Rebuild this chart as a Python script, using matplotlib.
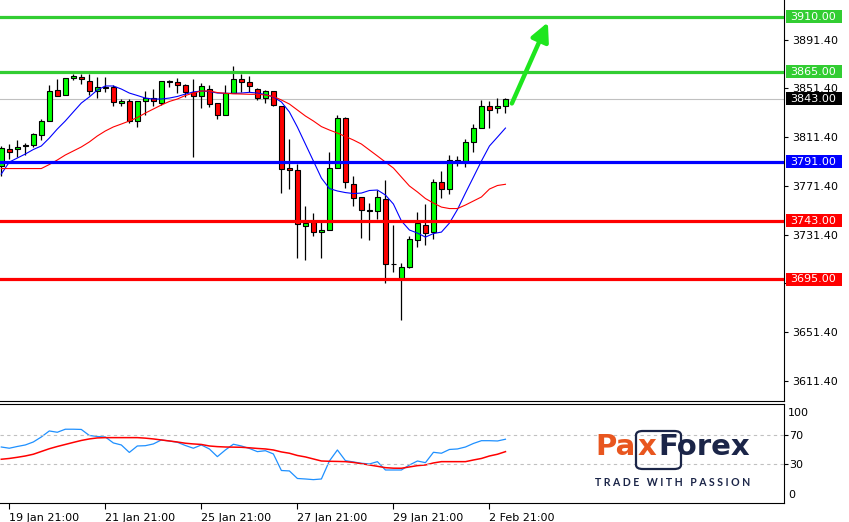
import matplotlib
matplotlib.use('Agg')

import matplotlib.pyplot as plt
import numpy as np
from matplotlib.patches import Rectangle, FancyBboxPatch

# H4 candles
opens = [3787.7, 3801.9, 3801.4, 3803.8, 3804.6, 3812.8, 3824.3, 3849.7, 3845.6, 3859.6,
         3860.4, 3857.6, 3848.9, 3852.2, 3852.2, 3839.1, 3840.7, 3824.8, 3840.7, 3843.4,
         3839.1, 3857.4, 3856.3, 3854.1, 3848.6, 3844.8, 3851.1, 3839.1, 3829.2, 3847.8,
         3858.8, 3856.3, 3850.6, 3843.4, 3848.9, 3836.6, 3785.8, 3784.4, 3738.2, 3742.0,
         3733.3, 3734.9, 3786.3, 3826.8, 3772.7, 3762.2, 3751.3, 3750.5, 3760.6, 3707.1,
         3695.3, 3705.1, 3727.2, 3739.5, 3733.3, 3774.3, 3769.1, 3792.3, 3791.2, 3807.4,
         3818.6, 3836.9, 3835.0, 3836.9]
highs = [3804.0, 3805.5, 3809.0, 3806.8, 3815.0, 3826.0, 3854.1, 3859.0, 3859.6, 3862.9,
         3862.9, 3862.9, 3860.4, 3860.4, 3854.1, 3842.6, 3842.6, 3841.0, 3849.2, 3850.8,
         3857.4, 3858.2, 3859.8, 3854.9, 3859.0, 3855.7, 3854.3, 3839.1, 3854.3, 3869.7,
         3862.9, 3861.5, 3851.6, 3850.0, 3848.9, 3836.6, 3809.8, 3789.3, 3754.9, 3748.9,
         3741.7, 3799.1, 3829.5, 3827.6, 3779.7, 3762.2, 3757.1, 3768.0, 3775.9, 3739.5,
         3708.4, 3730.3, 3749.7, 3756.5, 3777.0, 3783.6, 3796.4, 3796.1, 3809.8, 3822.1,
         3841.8, 3841.2, 3843.2, 3843.7]
lows = [3779.5, 3793.2, 3795.3, 3796.4, 3803.0, 3809.0, 3824.3, 3845.3, 3845.6, 3858.2,
        3854.9, 3845.9, 3843.7, 3848.6, 3836.9, 3837.1, 3822.7, 3819.9, 3829.5, 3837.1,
        3837.7, 3852.7, 3847.3, 3844.0, 3795.3, 3835.5, 3836.3, 3826.5, 3829.2, 3847.8,
        3848.1, 3848.1, 3841.8, 3839.1, 3836.9, 3765.8, 3769.1, 3712.5, 3710.6, 3730.3,
        3712.5, 3734.9, 3786.3, 3769.9, 3754.9, 3728.9, 3727.2, 3744.0, 3692.0, 3701.0,
        3661.4, 3704.3, 3721.0, 3722.9, 3727.6, 3761.2, 3765.0, 3787.7, 3786.6, 3799.1,
        3818.6, 3818.6, 3831.4, 3831.4]
closes = [3802.2, 3798.9, 3803.0, 3804.6, 3813.9, 3824.6, 3849.4, 3845.3, 3859.6, 3861.5,
          3858.8, 3848.9, 3852.2, 3852.0, 3839.9, 3840.7, 3824.8, 3841.0, 3843.4, 3840.7,
          3857.4, 3856.8, 3853.8, 3848.6, 3844.8, 3853.0, 3838.8, 3829.2, 3847.8, 3858.8,
          3856.3, 3853.0, 3843.2, 3848.9, 3837.4, 3785.5, 3784.1, 3739.9, 3741.2, 3733.3,
          3734.9, 3785.8, 3826.8, 3774.3, 3761.2, 3751.3, 3751.0, 3762.0, 3707.1, 3707.4,
          3705.1, 3727.6, 3740.7, 3733.0, 3774.3, 3769.1, 3792.3, 3792.0, 3807.4, 3818.6,
          3836.9, 3833.3, 3836.9, 3843.0]

# moving averages (blue fast, red slow)
ma_fast = [3781.1, 3790.9, 3794.2, 3797.5, 3801.2, 3804.1, 3810.6, 3818.0, 3824.6, 3832.0,
           3839.3, 3844.3, 3850.0, 3853.3, 3853.3, 3850.8, 3847.5, 3845.5, 3843.4, 3842.6,
           3842.6, 3843.4, 3844.7, 3846.7, 3848.4, 3849.2, 3848.8, 3847.5, 3847.3, 3847.3,
           3847.5, 3848.1, 3847.5, 3846.3, 3844.3, 3840.2, 3832.0, 3819.6, 3805.7, 3791.8,
           3777.8, 3769.2, 3767.2, 3765.9, 3765.1, 3765.5, 3767.6, 3768.0, 3763.9, 3756.5,
           3742.6, 3735.2, 3732.7, 3729.4, 3732.3, 3733.5, 3740.9, 3752.0, 3765.5, 3778.6,
           3791.8, 3804.1, 3811.4, 3818.8]
ma_slow = [3785.6, 3785.6, 3785.6, 3785.6, 3785.6, 3785.6, 3788.9, 3792.6, 3796.7, 3800.0,
           3803.3, 3807.4, 3812.3, 3816.4, 3819.7, 3822.1, 3824.6, 3827.4, 3831.1, 3834.4,
           3837.7, 3840.6, 3842.6, 3845.5, 3847.5, 3849.2, 3849.2, 3847.9, 3847.3, 3846.9,
           3846.7, 3846.5, 3846.5, 3845.9, 3844.7, 3841.8, 3838.5, 3833.6, 3828.7, 3824.6,
           3820.0, 3817.2, 3814.7, 3811.9, 3809.0, 3805.7, 3800.8, 3795.9, 3790.9, 3786.0,
           3778.6, 3771.3, 3766.4, 3761.0, 3757.3, 3754.0, 3752.8, 3752.8, 3755.7, 3759.0,
           3762.3, 3768.8, 3771.7, 3772.7]

# oscillator panel
osc_main = [53.4, 51.7, 54.1, 56.2, 60.3, 67.2, 75.5, 73.7, 77.9, 77.9,
            77.6, 69.3, 67.9, 67.2, 59.0, 56.2, 45.9, 54.8, 55.2, 57.6,
            63.1, 61.7, 59.9, 55.5, 51.7, 56.2, 50.7, 40.1, 49.3, 57.2,
            54.8, 51.4, 47.0, 48.3, 43.8, 21.0, 20.4, 10.0, 9.3, 8.4,
            9.3, 34.1, 49.3, 34.6, 32.8, 31.0, 30.0, 33.2, 21.7, 21.7,
            21.7, 28.6, 34.1, 31.8, 46.1, 44.8, 50.0, 50.7, 53.4, 58.3,
            62.1, 62.1, 61.7, 64.1]
osc_signal = [36.5, 37.6, 39.2, 41.0, 43.4, 47.2, 51.0, 54.1, 56.9, 59.7,
              62.4, 64.5, 65.9, 66.3, 66.3, 66.3, 66.3, 66.3, 65.6, 64.5,
              63.1, 61.7, 60.3, 58.6, 57.6, 56.9, 54.8, 53.9, 53.4, 53.2,
              53.0, 52.3, 51.4, 50.7, 49.3, 46.6, 44.8, 41.7, 39.7, 36.9,
              34.1, 33.7, 33.5, 33.2, 32.1, 30.4, 28.6, 26.8, 24.9, 24.2,
              24.1, 25.9, 27.7, 28.6, 31.4, 33.2, 33.2, 33.2, 33.2, 35.5,
              37.6, 41.0, 43.4, 47.0]

tick_idx = [1, 13, 25, 37, 49, 61]
tick_labels = ['19 Jan 21:00', '21 Jan 21:00', '25 Jan 21:00', '27 Jan 21:00',
               '29 Jan 21:00', '2 Feb 21:00']

levels = [3910.0, 3865.0, 3791.0, 3743.0, 3695.0]
level_colors = ['#32CD32', '#32CD32', '#0000FF', '#FF0000', '#FF0000']
last_price = 3843.0
price_ticks = [3611.4, 3651.4, 3691.4, 3731.4, 3771.4, 3811.4, 3851.4, 3891.4]

fig = plt.figure(figsize=(8.49, 5.22), dpi=100)
ax = fig.add_axes([0, 0.2318, 0.9234, 0.7682])
ax2 = fig.add_axes([0, 0.0364, 0.9234, 0.1897], sharex=ax)

x = np.arange(len(opens))
o = np.array(opens); c = np.array(closes)
doji = np.abs(c - o) < 0.8
colors = np.where(doji, 'black', np.where(c > o, '#00FF00', '#FF0000'))

# wicks + bodies
ax.vlines(x, lows, highs, color='black', lw=0.9, zorder=3)
ax.bar(x, np.maximum(np.abs(c - o), 0.05), bottom=np.minimum(o, c), width=0.62,
       color=colors, edgecolor='black', linewidth=0.8, zorder=4)

# MAs
ax.plot(x, ma_fast, color='#0000FF', lw=0.8, zorder=5)
ax.plot(x, ma_slow, color='#FF0000', lw=0.8, zorder=5)

# bid line + levels
ax.axhline(last_price, color='#C0C0C0', lw=0.8, zorder=1)
for lv, col in zip(levels, level_colors):
    ax.axhline(lv, color=col, lw=2.3, zorder=6)

# price tags on the right
tr = ax.get_yaxis_transform()
tags = levels + [last_price]
tag_cols = level_colors + ['black']
for lv, col in zip(tags, tag_cols):
    ax.add_patch(Rectangle((1.0026, lv - 5.3), 0.0714, 10.6, transform=tr,
                           facecolor=col, edgecolor='none', clip_on=False, zorder=10))
    ax.text(1.0085, lv, f'{lv:.2f}', transform=tr, color='white', fontsize=8,
            ha='left', va='center', clip_on=False, zorder=11)

# arrow toward the target
n = len(closes)
ax.annotate('', xy=(n + 4.3, levels[0] - 4.5), xytext=(n - 0.2, closes[-1] - 4),
            arrowprops=dict(arrowstyle='-|>,head_length=1.1,head_width=0.55',
                            color='#1EE61E', lw=3.2, shrinkA=0, shrinkB=0), zorder=7)

ax.set_xlim(-0.16, 97.8)
ax.set_ylim(3595.0, 3923.8)
ax.yaxis.tick_right()
ax.set_yticks(price_ticks)
# 3691.40 sits under the 3695.00 tag in the original, so its text is hidden
ax.set_yticklabels(['' if abs(p - levels[-1]) < 5 else f'{p:.2f}' for p in price_ticks])
ax.tick_params(axis='y', direction='out', length=3, pad=3, labelsize=8, width=0.8)
ax.tick_params(axis='x', bottom=False, labelbottom=False)
ax.spines['top'].set_visible(False)
ax.spines['left'].set_visible(False)

# oscillator
ax2.plot(x, osc_main, color='#1E90FF', lw=0.9)
ax2.plot(x, osc_signal, color='#FF0000', lw=1.1)
for lv in (70, 30):
    ax2.axhline(lv, color='#C0C0C0', lw=0.8, dashes=(3, 3))
ax2.set_ylim(-23.8, 112.7)
ax2.yaxis.tick_right()
ax2.set_yticks([70, 30])
ax2.set_yticklabels(['70', '30'])
ax2.tick_params(axis='y', direction='out', length=3, pad=1, labelsize=8, width=0.8)
ax2.text(1.005, 100, '100', transform=ax2.get_yaxis_transform(), fontsize=8,
         ha='left', va='center')
ax2.text(1.005, -12.7, '0', transform=ax2.get_yaxis_transform(), fontsize=8,
         ha='left', va='center')
ax2.set_xticks(tick_idx)
ax2.set_xticklabels(tick_labels, ha='left')
ax2.tick_params(axis='x', direction='out', length=4, pad=3, labelsize=8, width=0.8)
ax2.spines['left'].set_visible(False)

# PaxForex logo
navy = '#1B2548'
orange = '#E8561F'
fig.add_artist(FancyBboxPatch((636 / 849, 1 - 469 / 522), 45 / 849, 38 / 522,
                              boxstyle='round,pad=0,rounding_size=0.008',
                              transform=fig.transFigure, fill=False,
                              edgecolor=navy, lw=1.6))
renderer = fig.canvas.get_renderer()
yb = 1 - 455 / 522
xpos = 595
for part, col in [('Pa', orange), ('x', orange), ('Forex', navy)]:
    t = fig.text(xpos / 849, yb, part, color=col, fontsize=21, fontweight='bold',
                 family='DejaVu Sans', va='baseline')
    xpos += t.get_window_extent(renderer).width + 2
tag = fig.text(595 / 849, 1 - 486 / 522, 'T R A D E   W I T H   P A S S I O N',
               color=navy, fontsize=7, fontweight='bold', family='Lato', va='baseline')
w = tag.get_window_extent(renderer).width
tag.set_fontsize(7 * 157 / w)

fig.savefig('out.png', dpi=100)
